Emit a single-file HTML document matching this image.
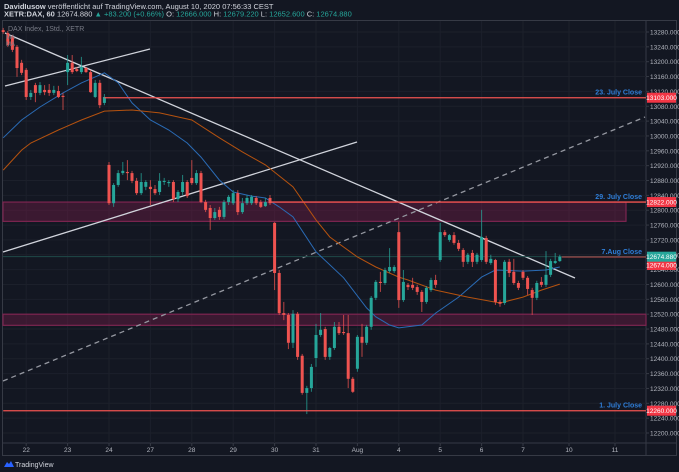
<!DOCTYPE html>
<html><head><meta charset="utf-8">
<style>
html,body{margin:0;padding:0;background:#131722;}
body{width:679px;height:472px;overflow:hidden;font-family:"Liberation Sans",sans-serif;}
svg{display:block}
</style></head>
<body>
<svg id="chart" width="679" height="472" viewBox="0 0 679 472" xmlns="http://www.w3.org/2000/svg">
<rect x="0" y="0" width="679" height="472" fill="#131722"/>
<text x="4" y="9" font-size="7.5" fill="#d1d4dc"><tspan font-weight="bold">DavidIusow</tspan> veröffentlicht auf TradingView.com, August 10, 2020 07:56:33 CEST</text>
<text x="4" y="16.5" font-size="7.5" fill="#d1d4dc"><tspan font-weight="bold">XETR:DAX, 60</tspan> 12674.880 <tspan fill="#26a69a">▲ +83.200 (+0.66%)</tspan> O: <tspan fill="#26a69a">12666.000</tspan> H: <tspan fill="#26a69a">12679.220</tspan> L: <tspan fill="#26a69a">12652.600</tspan> C: <tspan fill="#26a69a">12674.880</tspan></text>
<rect x="2.5" y="20.5" width="674" height="435" fill="none" stroke="#363a45"/>
<line x1="646" y1="20" x2="646" y2="456" stroke="#363a45"/>
<line x1="2" y1="443" x2="677" y2="443" stroke="#363a45"/>
<g id="grid"></g>
<g id="zones"></g>
<g id="lines"></g>
<g id="mas"></g>
<g id="candles"></g>
<g id="levels"></g>
<g id="yaxis"></g>
<g id="xaxis"></g>
<text x="8" y="31" font-size="7" fill="#787b86">DAX Index, 1Std., XETR</text>
<text x="6" y="39" font-size="6" fill="#787b86">MA</text>
<text x="6" y="46" font-size="6" fill="#787b86">MA</text>
<g>
<path d="M4 467 l3 -5 l2 2 l2 -3 l3 6 z" fill="#2962ff"/>
<text x="15" y="467" font-size="7" fill="#d1d4dc">TradingView</text>
</g>
</svg>
<script>
const opens=[13285,13277,13267,13240,13197,13178,13105,13137,13116,13124,13124,13116,13121,13108,13172,13197,13180,13172,13183,13172,13105,13143,13089,
12922,12819,12868,12900,12903,12900,12879,12846,12863,
12863,12857,12849,12876,12873,12876,12830,12849,12876,
12887,12873,12900,12822,12806,12779,12801,12782,12822,
12819,12846,12795,12819,12819,12833,12822,12811,12833,
12766,12631,12523,12518,12443,12521,12408,12308,12321,
12402,12464,12480,12405,12429,12486,12472,12469,12346,
12373,12459,12443,12486,12564,12607,12604,12636,12636,
12741,12558,12599,12599,12593,12580,12553,12585,12612,
12666,12741,12720,12733,12712,12693,12661,12685,12661,
12666,12725,12658,12666,12553,12550,12661,12634,12604,
12634,12618,12585,12564,12607,12599,12626,12658,12663];
const highs=[13291,13283,13272,13245,13205,13183,13124,13143,13145,13137,13140,13135,13135,13116,13218,13218,13186,13213,13186,13178,13151,13151,13113,
12930,12873,12908,12930,12935,12906,12887,12900,12881,
12881,12868,12900,12887,12881,12881,12854,12895,12881,
12935,12908,12906,12828,12814,12806,12809,12828,12841,
12854,12854,12833,12841,12841,12838,12828,12833,12841,
12768,12639,12553,12523,12531,12526,12413,12327,12386,
12494,12523,12486,12432,12499,12499,12518,12518,12351,
12464,12494,12491,12569,12612,12634,12645,12698,12652,
12768,12639,12604,12618,12599,12585,12596,12618,12626,
12766,12747,12736,12741,12720,12698,12685,12693,12685,
12801,12731,12680,12669,12558,12666,12669,12669,12610,
12639,12623,12591,12610,12620,12690,12669,12685,12680];
const lows=[13275,13240,13226,13159,13164,13097,13097,13091,13110,13110,13108,13110,13102,13070,13137,13167,13172,13167,13170,13116,13102,13075,13083,
12814,12809,12863,12895,12881,12873,12841,12841,12854,
12814,12841,12841,12868,12863,12822,12822,12841,12833,
12868,12868,12819,12795,12747,12774,12774,12776,12814,
12814,12787,12790,12814,12814,12814,12806,12809,12814,
12585,12518,12504,12426,12429,12397,12303,12251,12311,
12378,12459,12397,12397,12424,12464,12464,12321,12308,
12365,12405,12437,12478,12558,12580,12599,12631,12631,
12537,12553,12585,12585,12572,12526,12548,12580,12591,
12661,12728,12715,12707,12690,12647,12655,12647,12655,
12661,12655,12653,12545,12540,12545,12620,12599,12585,
12612,12572,12518,12558,12593,12593,12620,12655,12661];
const closes=[13280,13245,13232,13183,13170,13105,13116,13116,13137,13118,13116,13124,13105,13105,13197,13172,13175,13186,13172,13118,13143,13083,13105,
12819,12868,12900,12906,12900,12879,12846,12876,12876,
12857,12846,12879,12879,12876,12830,12849,12876,12838,
12873,12900,12822,12801,12779,12795,12782,12822,12836,
12846,12795,12819,12833,12836,12819,12809,12822,12819,
12631,12523,12518,12443,12521,12405,12308,12321,12378,
12464,12478,12405,12429,12486,12469,12469,12346,12311,
12459,12443,12486,12564,12607,12604,12639,12647,12647,
12558,12607,12593,12591,12580,12553,12591,12612,12599,
12741,12733,12733,12712,12696,12661,12680,12661,12680,
12728,12661,12669,12553,12548,12661,12631,12604,12591,
12618,12588,12564,12604,12599,12626,12663,12663,12674.88];
const ma20Idx=[0,4,8,13,17,20,22,25,28,32,36,40,43,47,50,54,57,60,63,68,74,79,81,84,86,91,94,99,104,107,113,118,121];
const ma20Val=[12995,13043,13078,13116,13143,13159,13170,13143,13089,13043,13016,12981,12943,12881,12849,12838,12833,12809,12782,12688,12618,12537,12513,12491,12483,12491,12523,12566,12620,12639,12636,12639,12647];
const ma50Idx=[0,2,4,6,12,17,22,28,34,41,47,52,57,63,68,71,77,81,86,88,94,101,108,113,117,121];
const ma50Val=[12908,12935,12962,12981,13016,13043,13067,13070,13062,13043,12995,12957,12922,12863,12774,12728,12674,12647,12620,12612,12585,12566,12550,12566,12585,12601];
const priceTicks=[13280,13240,13200,13160,13120,13080,13040,13000,12960,12920,12880,12840,12800,12760,12720,12680,12640,12600,12560,12520,12480,12440,12400,12360,12320,12280,12240,12200];
const dayLabels=["22","23","24","27","28","29","30","31","Aug","4","5","6","7","10","11"];
const dayStartIdx=[5,14,23,32,41,50,59,68,77,86,95,104,113,123,133];
const levelPrices=[13103,12822,12260];
const levelNames=["23. July Close","29. July Close","1. July Close"];
const levelStartIdx=[22,58,0];

const NS="http://www.w3.org/2000/svg";
const X=i=>3.2+i*4.6;
const Y=p=>32+(13280-p)*0.3713;
const PR=646;
function mk(tag,attrs,parent){const e=document.createElementNS(NS,tag);for(const k in attrs)e.setAttribute(k,attrs[k]);parent.appendChild(e);return e;}
const g=id=>document.getElementById(id);

priceTicks.forEach(p=>{const l=mk('line',{x1:3,x2:PR,y1:Y(p),y2:Y(p),stroke:'#1c202b','stroke-width':1},g('grid'));

});
dayStartIdx.forEach(i=>{const l=mk('line',{x1:X(i),x2:X(i),y1:21,y2:443,stroke:'#1c202b','stroke-width':1},g('grid'));

});

let z=mk('rect',{x:3,y:Y(12822),width:623,height:Y(12770)-Y(12822),fill:'rgba(136,28,78,0.35)',stroke:'#7d2550','stroke-width':1.2},g('zones'));


z=mk('rect',{x:3,y:Y(12520),width:PR-3,height:Y(12490)-Y(12520),fill:'rgba(136,28,78,0.35)',stroke:'#7d2550','stroke-width':1.2},g('zones'));



const tl=[[5,33,575,278,'#d1d4dc','','descending-trendline'],[5,86,150,49,'#d1d4dc','','short-ascending-line'],[3,252,357,142,'#d1d4dc','','ascending-trendline'],[3,381,645,117,'#9598a1','5,4','dashed-channel-line']];
tl.forEach(t=>{const l=mk('line',{x1:t[0],y1:t[1],x2:t[2],y2:t[3],stroke:t[4],'stroke-width':1.3,'stroke-dasharray':t[5]},g('lines'));

});
let cp=mk('line',{x1:3,x2:PR,y1:Y(closes[closes.length-1]),y2:Y(closes[closes.length-1]),stroke:'#1f4a48','stroke-width':1},g('lines'));



function maPath(idx,val,color,name){const d=idx.map((i,k)=>(k?'L':'M')+X(i).toFixed(1)+' '+Y(val[k]).toFixed(1)).join(' ');
const p=mk('path',{d:d,fill:'none',stroke:color,'stroke-width':1},g('mas'));

}
maPath(ma20Idx,ma20Val,'#2a6bb5','ma-short-line');
maPath(ma50Idx,ma50Val,'#b5520f','ma-long-line');

opens.forEach((o,i)=>{const c=closes[i];const up=c>=o;const col=up?'#26a69a':'#ef5350';
const x=X(i);
const w=mk('line',{x1:x,x2:x,y1:Y(highs[i]),y2:Y(lows[i]),stroke:col,'stroke-width':1,opacity:0.75},g('candles'));


const top=Y(Math.max(o,c)),bot=Y(Math.min(o,c));
const b=mk('rect',{x:x-1.5,y:top,width:3,height:Math.max(1,bot-top),fill:col},g('candles'));

});

levelPrices.forEach((p,k)=>{const l=mk('line',{x1:X(levelStartIdx[k]),x2:PR,y1:Y(p),y2:Y(p),stroke:'#ef5350','stroke-width':1.3},g('levels'));


const t=mk('text',{x:642,y:Y(p)-3,'font-size':7,'font-weight':'bold',fill:'#2f7ed8','text-anchor':'end'},g('levels'));
t.textContent=levelNames[k];

});
const lastC=closes[closes.length-1];
let al=mk('line',{x1:X(opens.length-1)+2,x2:PR,y1:Y(12674),y2:Y(12674),stroke:'#c0504d','stroke-width':1},g('levels'));


let at=mk('text',{x:642,y:Y(12674)-3,'font-size':7,'font-weight':'bold',fill:'#2f7ed8','text-anchor':'end'},g('levels'));
at.textContent='7.Aug Close';



priceTicks.forEach(p=>{const t=mk('text',{x:650,y:Y(p)+2.5,'font-size':6.5,fill:'#b2b5be'},g('yaxis'));
t.textContent=p.toFixed(3);


const tk=mk('line',{x1:646,x2:649,y1:Y(p),y2:Y(p),stroke:'#363a45'},g('yaxis'));

});
function box(p,txt,col,yo,name){const y=Y(p)+yo;
const r=mk('rect',{x:647,y:y-5,width:29,height:10,fill:col},g('yaxis'));


const t=mk('text',{x:661.5,y:y+2.5,'font-size':6.5,fill:'#ffffff','text-anchor':'middle'},g('yaxis'));
t.textContent=txt;

}
box(13103,'13103.000','#f23645',0,'level-price-box');
box(12822,'12822.000','#f23645',0,'level-price-box');
box(12674,'12674.000','#f23645',8,'level-price-box');
box(lastC,lastC.toFixed(3),'#26a69a',0,'last-price-box');
box(12260,'12260.000','#f23645',0,'level-price-box');

dayLabels.forEach((d,k)=>{const x=X(dayStartIdx[k]);
const t=mk('text',{x:x,y:452,'font-size':6.5,fill:'#b2b5be','text-anchor':'middle'},g('xaxis'));
t.textContent=d;


const tk=mk('line',{x1:x,x2:x,y1:443,y2:446,stroke:'#363a45'},g('xaxis'));

});
</script>
</body></html>
